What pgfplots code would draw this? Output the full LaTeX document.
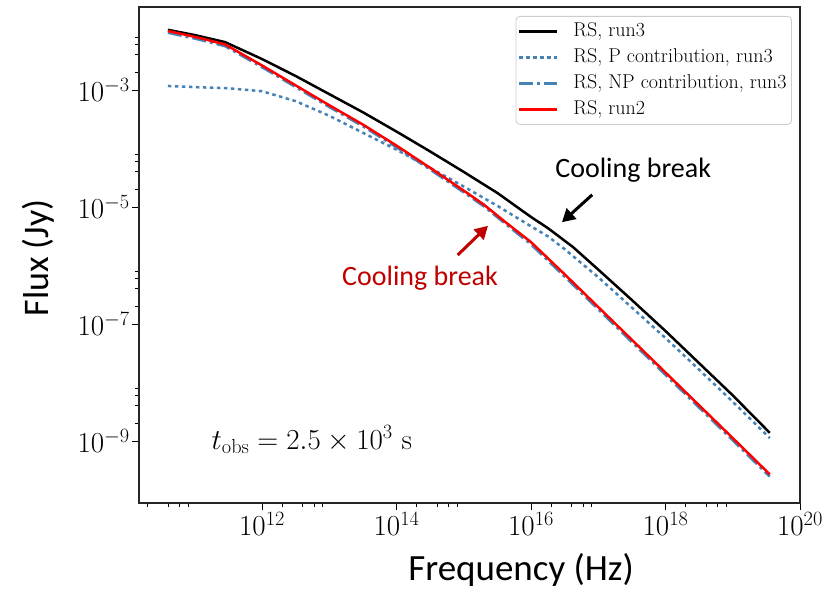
\documentclass[border=0pt]{standalone}
\usepackage{fix-cm}
\usepackage{fontspec}
\usepackage{pgfplots}
\pgfplotsset{compat=1.18}
\usepackage{pgfplotstable}
\usetikzlibrary{arrows.meta}
\newfontfamily\calibri{Carlito}
\definecolor{sblue}{HTML}{4682B4}
\definecolor{dred}{HTML}{C00000}

\pgfplotstableread{
x y
10.60 -1.97
11.00 -2.06
11.45 -2.18
12.00 -2.47
12.50 -2.76
13.00 -3.07
13.50 -3.38
14.00 -3.71
14.50 -4.05
15.00 -4.40
15.50 -4.76
16.00 -5.17
16.25 -5.36
16.62 -5.68
17.00 -6.07
17.50 -6.59
18.00 -7.12
18.50 -7.67
19.00 -8.22
19.55 -8.86
}\runthree

\pgfplotstableread{
x y
10.60 -2.93
11.00 -2.95
11.50 -2.97
12.00 -3.02
12.50 -3.19
13.00 -3.44
13.50 -3.73
14.00 -4.02
14.50 -4.33
15.00 -4.65
15.50 -4.98
16.00 -5.33
16.25 -5.50
16.50 -5.72
17.00 -6.20
17.50 -6.72
18.00 -7.24
18.50 -7.78
19.00 -8.33
19.55 -8.95
}\pcontrib

\pgfplotstableread{
x y
10.60 -2.02
11.00 -2.12
11.45 -2.25
12.00 -2.61
12.50 -2.95
13.00 -3.29
13.50 -3.62
14.00 -3.98
14.50 -4.36
15.00 -4.75
15.30 -4.99
15.60 -5.27
16.00 -5.64
16.50 -6.19
17.00 -6.75
17.50 -7.31
18.00 -7.87
18.50 -8.43
19.00 -8.99
19.55 -9.61
}\npcontrib

\pgfplotstableread{
x y
10.60 -1.99
11.00 -2.09
11.45 -2.22
12.00 -2.58
12.50 -2.92
13.00 -3.26
13.50 -3.59
14.00 -3.95
14.50 -4.33
15.00 -4.72
15.30 -4.96
15.60 -5.24
16.00 -5.60
16.50 -6.15
17.00 -6.71
17.50 -7.27
18.00 -7.83
18.50 -8.39
19.00 -8.95
19.55 -9.57
}\runtwo

\begin{document}
\begin{tikzpicture}
\useasboundingbox (-139pt,-86pt) rectangle (699pt,503pt);
\begin{axis}[
  at={(0,0)}, anchor=south west,
  scale only axis, width=661pt, height=496pt,
  xmin=10.17, xmax=20.0, ymin=-10.06, ymax=-1.58,
  xtick={12,14,16,18,20},
  xticklabels={$10^{12}$,$10^{14}$,$10^{16}$,$10^{18}$,$10^{20}$},
  ytick={-9,-7,-5,-3},
  yticklabels={$10^{-9}$,$10^{-7}$,$10^{-5}$,$10^{-3}$},
  minor xtick={10.301,10.602,10.778,10.903,12.301,12.602,12.778,12.903,14.301,14.602,14.778,14.903,16.301,16.602,16.778,16.903,18.301,18.602,18.778,18.903},
  minor ytick={-2.699,-2.398,-2.222,-2.097,-4.699,-4.398,-4.222,-4.097,-6.699,-6.398,-6.222,-6.097,-8.699,-8.398,-8.222,-8.097},
  tick align=outside, xtick pos=left, ytick pos=left,
  major tick length=7pt, minor tick length=4pt,
  every tick/.style={black, line width=0.9pt},
  axis line style={line width=1.1pt, black!85},
  ticklabel style={font=\fontsize{29}{29}\selectfont},
  xticklabel style={inner sep=2pt},
  yticklabel style={inner sep=2pt},
  xlabel={Frequency (Hz)}, ylabel={Flux (Jy)},
  every axis x label/.style={at={(axis description cs:0.578,-0.135)}, anchor=center, font=\calibri\fontsize{37}{37}\selectfont},
  every axis y label/.style={at={(axis description cs:-0.152,0.494)}, anchor=center, rotate=90, font=\calibri\fontsize{36}{36}\selectfont},
  legend style={at={(1,1)}, anchor=north east, xshift=-8pt, yshift=-9pt,
    draw=black!20, line width=0.8pt, rounded corners=4pt,
    font=\fontsize{20}{20}\selectfont, inner sep=2pt, column sep=12pt,
    nodes={inner sep=3pt, text height=15pt, text depth=5pt}},
  legend cell align=left,
  legend image code/.code={\draw[#1] plot coordinates {(0pt,0pt) (38pt,0pt)};},
]
\addplot[black, line width=2.5pt] table[x=x,y=y] {\runthree};
\addlegendentry{RS, run3}
\addplot[sblue, line width=2.5pt, dash pattern=on 3.5pt off 3.5pt] table[x=x,y=y] {\pcontrib};
\addlegendentry{RS, P contribution, run3}
\addplot[sblue, line width=2.5pt, dash pattern=on 14pt off 4pt on 3pt off 4pt] table[x=x,y=y] {\npcontrib};
\addlegendentry{RS, NP contribution, run3}
\addplot[red, line width=2.5pt] table[x=x,y=y] {\runtwo};
\addlegendentry{RS, run2}

\node[font=\calibri\fontsize{28}{28}\selectfont, text=black] at (axis cs:17.52,-4.37) {Cooling break};
\draw[black, line width=3pt, -{Triangle[length=13pt,width=14pt]}] (axis cs:16.91,-4.79) -- (axis cs:16.46,-5.26);
\node[font=\calibri\fontsize{28}{28}\selectfont, text=dred] at (axis cs:14.35,-6.21) {Cooling break};
\draw[dred, line width=3pt, -{Triangle[length=13pt,width=14pt]}] (axis cs:14.91,-5.82) -- (axis cs:15.36,-5.32);
\node[font=\fontsize{29}{29}\selectfont] at (axis cs:12.74,-8.98) {$t_{\mathrm{obs}} = 2.5\times10^{3}\ \mathrm{s}$};
\end{axis}
\end{tikzpicture}
\end{document}
